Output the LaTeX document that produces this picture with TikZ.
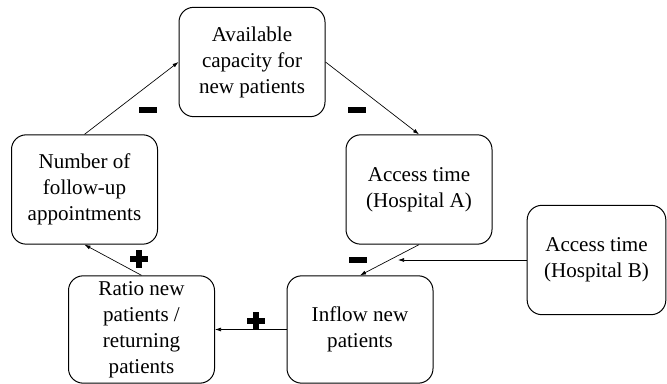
\documentclass[tikz,border=0pt]{standalone}
\usepackage{fontspec}
\setmainfont{Liberation Serif}
\newfontfamily\boxfont{Liberation Serif}
\usetikzlibrary{arrows.meta}
\begin{document}
\begin{tikzpicture}[x=0.75pt,y=-0.75pt,
  box/.style={draw, line width=0.75pt, rounded corners=11pt, minimum width=109.5pt,
    minimum height=82pt, align=center, inner sep=0pt,
    font=\boxfont\fontsize{15.8}{19.5}\selectfont},
  link/.style={-{Latex[length=4.5pt,width=3pt]}, line width=0.5pt},
  minussign/.pic={\fill (-9,-3) rectangle (9,3);},
  plussign/.pic={\fill (-9,-3) rectangle (9,3); \fill (-3,-9) rectangle (3,9);}
]
\path[use as bounding box] (0,0) rectangle (667,384);
\clip (0,0) rectangle (667,384);

\node[box] (cap) at (252,62) {Available\\capacity for\\new patients};
\node[box] (fu) at (84.5,189.5) {Number of\\follow-up\\appointments};
\node[box] (A) at (419,189.5) {Access time\\(Hospital A)};
\node[box, minimum width=104pt] (B) at (596.5,260) {Access time\\(Hospital B)};
\node[box, minimum height=80.5pt] (ratio) at (141.5,329.5) {Ratio new\\patients /\\returning\\patients};
\node[box, minimum height=80.5pt] (inflow) at (360,329.5) {Inflow new\\patients};

\coordinate (tip) at (398,260);

\draw[link] (fu.north) -- (cap.west);
\draw[link] (cap.east) -- (A.north);
\draw[link] (A.south) -- (inflow.north);
\draw[link] (B.west) -- (tip);
\draw[link] (inflow.west) -- (ratio.east);
\draw[link] (ratio.north) -- (fu.south);

\pic at (148,110) {minussign};
\pic at (357,110) {minussign};
\pic at (358,260) {minussign};
\pic at (139,259) {plussign};
\pic at (256,321) {plussign};
\end{tikzpicture}
\end{document}
